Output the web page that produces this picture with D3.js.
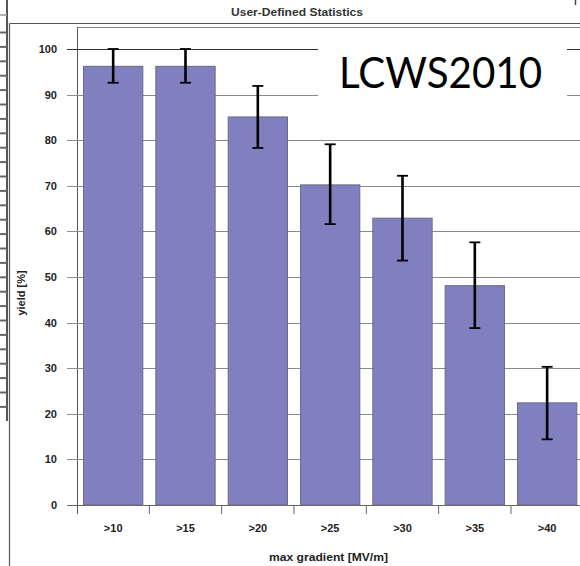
<!DOCTYPE html>
<html><head><meta charset="utf-8">
<script src="https://cdn.jsdelivr.net/npm/d3@7"></script>
<style>html,body{margin:0;padding:0;background:#fff;overflow:hidden}</style>
</head><body>
<svg id="c" width="580" height="566"></svg>
<script>
const categories = [">10", ">15", ">20", ">25", ">30", ">35", ">40"];
const yieldValues = [96.2, 96.2, 85.1, 70.2, 62.9, 48.1, 22.4];
const errUpper = [100, 100, 91.9, 79.1, 72.2, 57.6, 30.3];
const errLower = [92.6, 92.6, 78.3, 61.6, 53.6, 38.8, 14.4];
const yTicks = [0, 10, 20, 30, 40, 50, 60, 70, 80, 90, 100];

const svg = d3.select("#c");
const W = 580, H = 566;
const plotLeft = 77, plotTop = 27, yTop = 49, yBottom = 505;
const step = 72.33;
const FONT = "Liberation Sans, Arial, sans-serif";

const x = d3.scaleBand().domain(categories)
  .range([plotLeft, plotLeft + step * categories.length])
  .paddingInner(0.18).paddingOuter(0.09);
const y = d3.scaleLinear().domain([0, 100]).range([yBottom, yTop]);

// left spreadsheet strip
const strip = svg.append("g");
strip.append("line").attr("x1", 7).attr("x2", 7).attr("y1", 0).attr("y2", 421)
  .attr("stroke", "#555").attr("stroke-width", 2);
strip.append("line").attr("x1", 0).attr("x2", 7).attr("y1", 15).attr("y2", 15)
  .attr("stroke", "#999").attr("stroke-width", 1.5);
for (let yy = 32.5; yy <= 421; yy += 14.4) {
  strip.append("line").attr("x1", 0).attr("x2", 7).attr("y1", yy).attr("y2", yy)
    .attr("stroke", "#666").attr("stroke-width", 2);
}

// outer frame
svg.append("line").attr("x1", 9.5).attr("x2", 9.5).attr("y1", 23.5).attr("y2", H)
  .attr("stroke", "#555").attr("stroke-width", 1.2);
svg.append("line").attr("x1", 9.5).attr("x2", W).attr("y1", 23.5).attr("y2", 23.5)
  .attr("stroke", "#555").attr("stroke-width", 1.2);
svg.append("line").attr("x1", 575.5).attr("x2", 575.5).attr("y1", 0).attr("y2", 5)
  .attr("stroke", "#444").attr("stroke-width", 1.5);

// title
svg.append("text").attr("x", 297).attr("y", 16).attr("text-anchor", "middle")
  .attr("font-family", FONT).attr("font-weight", "bold")
  .attr("font-size", 11.5).attr("fill", "#333")
  .attr("textLength", 132).attr("lengthAdjust", "spacingAndGlyphs")
  .text("User-Defined Statistics");

// inner plot frame
svg.append("line").attr("x1", plotLeft).attr("x2", W).attr("y1", plotTop + 0.5).attr("y2", plotTop + 0.5)
  .attr("stroke", "#888").attr("stroke-width", 1);
svg.append("line").attr("x1", plotLeft + 0.5).attr("x2", plotLeft + 0.5).attr("y1", plotTop).attr("y2", yBottom + 9)
  .attr("stroke", "#555").attr("stroke-width", 1);

// gridlines + y ticks
const grid = svg.append("g");
yTicks.forEach(t => {
  grid.append("line").attr("x1", 67).attr("x2", W)
    .attr("y1", Math.round(y(t)) + 0.5).attr("y2", Math.round(y(t)) + 0.5)
    .attr("stroke", t === 100 ? "#333" : (t === 0 ? "#666" : "#8a8a8a"))
    .attr("stroke-width", 1);
});

// y axis labels
const yAxis = d3.axisLeft(y).tickValues(yTicks).tickSize(0).tickPadding(0);
const ya = svg.append("g").attr("transform", "translate(57,0)").call(yAxis);
ya.select(".domain").remove();
ya.selectAll("text").attr("font-family", FONT)
  .attr("font-weight", "bold").attr("font-size", 11).attr("fill", "#222");

// category ticks
const xTicks = categories.map(c => x(c) - x.step() * x.paddingInner() / 2).slice(1);
xTicks.forEach(tx => {
  svg.append("line").attr("x1", tx).attr("x2", tx).attr("y1", yBottom).attr("y2", yBottom + 9)
    .attr("stroke", "#666").attr("stroke-width", 1);
});

// bars
svg.append("g").selectAll("rect").data(categories).join("rect")
  .attr("x", c => x(c)).attr("width", x.bandwidth())
  .attr("y", (c, i) => y(yieldValues[i])).attr("height", (c, i) => y(0) - y(yieldValues[i]))
  .attr("fill", "#8080c0").attr("stroke", "#6a6a80").attr("stroke-width", 1);

// error bars
const eb = svg.append("g").attr("stroke", "#000");
categories.forEach((c, i) => {
  const cx = x(c) + x.bandwidth() / 2;
  eb.append("line").attr("x1", cx).attr("x2", cx).attr("y1", y(errUpper[i])).attr("y2", y(errLower[i]))
    .attr("stroke-width", 2.6);
  [errUpper[i], errLower[i]].forEach(v => {
    eb.append("line").attr("x1", cx - 5.5).attr("x2", cx + 5.5).attr("y1", y(v)).attr("y2", y(v))
      .attr("stroke-width", 1.8);
  });
});

// x labels
const xAxis = d3.axisBottom(x).tickSize(0).tickPadding(0);
const xa = svg.append("g").attr("transform", "translate(0,524)").call(xAxis);
xa.select(".domain").remove();
xa.selectAll("text").attr("font-family", FONT)
  .attr("font-weight", "bold").attr("font-size", 11).attr("fill", "#222");

// axis titles
svg.append("text").attr("x", 328.5).attr("y", 561).attr("text-anchor", "middle")
  .attr("font-family", FONT).attr("font-weight", "bold")
  .attr("font-size", 11.5).attr("fill", "#222")
  .attr("textLength", 119).attr("lengthAdjust", "spacingAndGlyphs")
  .text("max gradient [MV/m]");
svg.append("text").attr("transform", "translate(25,293) rotate(-90)").attr("text-anchor", "middle")
  .attr("font-family", FONT).attr("font-weight", "bold")
  .attr("font-size", 11).attr("fill", "#222").text("yield [%]");

// LCWS2010 overlay box
svg.append("rect").attr("x", 318).attr("y", 36).attr("width", 249).attr("height", 80).attr("fill", "#fff");
svg.append("text").attr("x", 339).attr("y", 88)
  .attr("font-family", "Lato, 'Open Sans', sans-serif").attr("font-size", 43)
  .attr("textLength", 203).attr("lengthAdjust", "spacingAndGlyphs")
  .attr("fill", "#000").text("LCWS2010");
</script>
</body></html>
